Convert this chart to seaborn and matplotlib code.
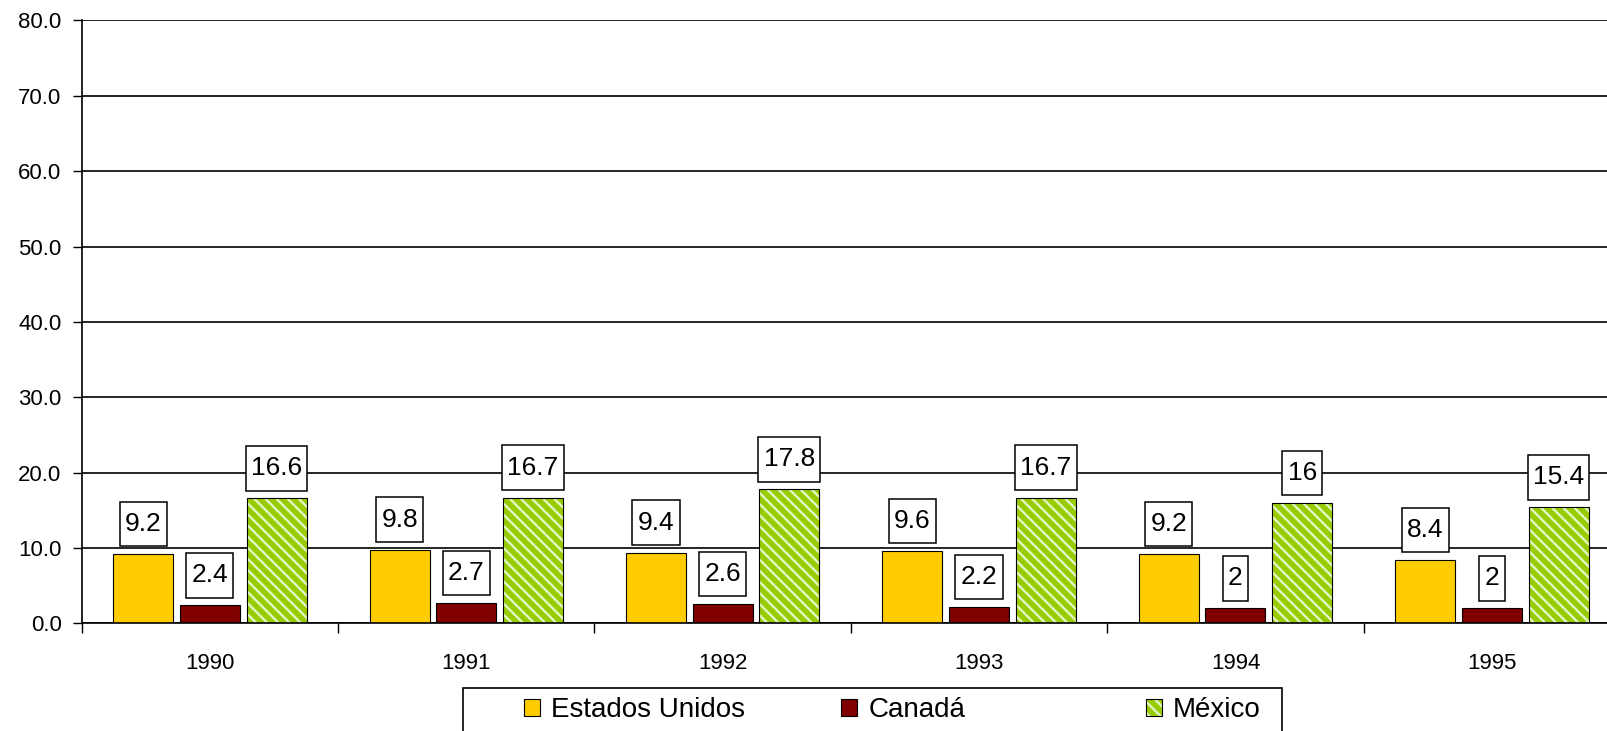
import numpy as np
import pandas as pd
import matplotlib
matplotlib.use('Agg')
import matplotlib.pyplot as plt
import matplotlib.patches as mpatches
from matplotlib.path import Path
from matplotlib.ticker import StrMethodFormatter
import seaborn as sns

# datos
years = ['1990', '1991', '1992', '1993', '1994', '1995']
paises = ['Estados Unidos', 'Canadá', 'México']
estados_unidos = [9.2, 9.8, 9.4, 9.6, 9.2, 8.4]
canada = [2.4, 2.7, 2.6, 2.2, 2.0, 2.0]
mexico = [16.6, 16.7, 17.8, 16.7, 16.0, 15.4]

colores = ['#FFCC00', '#800000', '#99CC00']
raya = '#E2F7C6'

df = pd.DataFrame({
    'year': years * 3,
    'pais': [p for p in paises for _ in years],
    'valor': estados_unidos + canada + mexico,
})

sns.set_theme(style='white')
plt.rcParams['font.family'] = ['Liberation Sans', 'DejaVu Sans']
plt.rcParams['hatch.linewidth'] = 1.7
for k in ['text.color', 'axes.labelcolor', 'xtick.color', 'ytick.color']:
    plt.rcParams[k] = 'black'

fig = plt.figure(figsize=(16.08, 7.31), dpi=100)
ax = fig.add_axes([0.0508, 0.1471, 0.9567, 0.8249])

sns.barplot(data=df, x='year', y='valor', hue='pais', hue_order=paises,
            order=years, palette=colores, saturation=1, width=0.78, gap=0.1,
            edgecolor='black', linewidth=0.8, errorbar=None, legend=False, ax=ax)

# rayado de México (el color del rayado sale del borde, así que el contorno va aparte)
for bar in ax.containers[2]:
    bar.set_hatch('\\\\\\')
    bar.set_edgecolor(raya)
    bar.set_linewidth(0)
    ax.add_patch(mpatches.Rectangle(bar.get_xy(), bar.get_width(), bar.get_height(),
                                    fill=False, edgecolor='black', linewidth=0.8, zorder=bar.get_zorder()))


# caja de etiqueta: poco margen a los lados, mucho arriba y abajo
def caja(x0, y0, w, h, m):
    px, py = 0.2 * m, 0.39 * m
    x0, y0, x1, y1 = x0 - px, y0 - py, x0 + w + px, y0 + h + py
    return Path([(x0, y0), (x1, y0), (x1, y1), (x0, y1), (x0, y0)],
                [Path.MOVETO, Path.LINETO, Path.LINETO, Path.LINETO, Path.CLOSEPOLY])


for cont, vals in zip(ax.containers, [estados_unidos, canada, mexico]):
    ax.bar_label(cont, labels=[f'{v:g}' for v in vals], padding=13, fontsize=19,
                 bbox=dict(boxstyle=caja, facecolor='white', edgecolor='black', linewidth=1.1))

ax.set_ylim(0, 80)
ax.set_xlim(-0.5, 5.5)
ax.set_yticks(range(0, 81, 10))
ax.yaxis.set_major_formatter(StrMethodFormatter('{x:.1f}'))
ax.set_xticks(range(len(years)), labels=years)
ax.set_xticks(np.arange(-0.5, len(years), 1), minor=True)
ax.tick_params(axis='y', left=True, length=6.5, width=1, pad=8, labelsize=16)
ax.tick_params(axis='x', which='major', bottom=True, length=0, pad=21, labelsize=16)
ax.tick_params(axis='x', which='minor', bottom=True, length=7, width=1)
ax.set_xlabel('')
ax.set_ylabel('')

ax.set_axisbelow(True)
ax.yaxis.grid(True, color='black', linewidth=1.2)
ax.spines['top'].set_visible(False)
ax.spines['right'].set_visible(False)
for s in ['left', 'bottom']:
    ax.spines[s].set_color('black')
    ax.spines[s].set_linewidth(1.2)

# leyenda: columnas de igual ancho como en Excel, una entrada por leyenda y un marco común
handles = [
    mpatches.Patch(facecolor=colores[0], edgecolor='black', linewidth=0.8),
    mpatches.Patch(facecolor=colores[1], edgecolor='black', linewidth=0.8),
    (mpatches.Patch(facecolor=colores[2], edgecolor=raya, hatch='\\\\\\', linewidth=0),
     mpatches.Patch(fill=False, edgecolor='black', linewidth=0.8)),
]
for h, lab, xl in zip(handles, paises, [0.3259, 0.523, 0.7127]):
    fig.legend([h], [lab], loc='upper left', bbox_to_anchor=(xl, 0.0465),
               borderaxespad=0, borderpad=0, frameon=False, fontsize=20,
               handlelength=0.58, handleheight=0.58, handletextpad=0.4)
fig.add_artist(mpatches.Rectangle((0.2879, -0.05), 0.5093, 0.1088, transform=fig.transFigure,
                                  fill=False, edgecolor='black', linewidth=1.2))

plt.savefig('out.png', dpi=100)
